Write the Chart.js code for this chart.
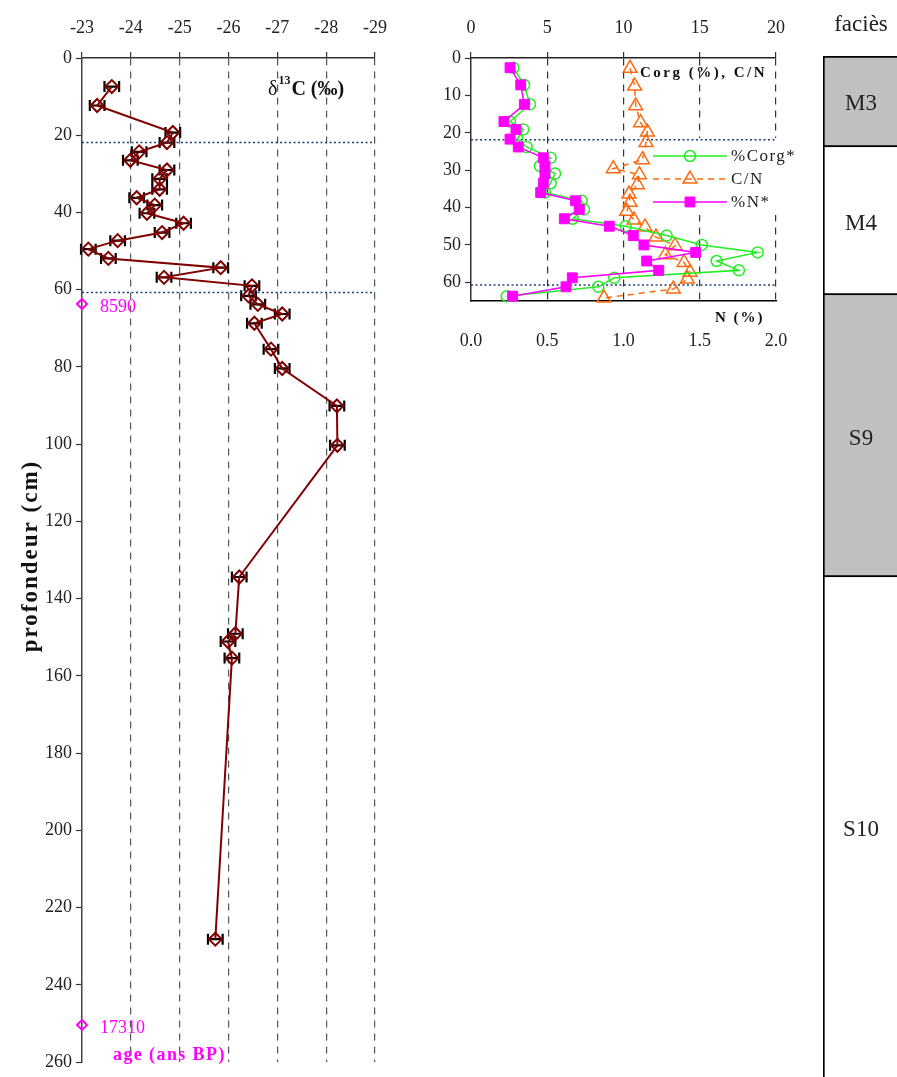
<!DOCTYPE html>
<html>
<head>
<meta charset="utf-8">
<script src="https://cdn.jsdelivr.net/npm/chart.js@4.4.1/dist/chart.umd.min.js"></script>
<style>
  html, body { margin: 0; padding: 0; background: #fff; overflow: hidden; }
  body { width: 897px; height: 1077px; position: relative; }
  canvas { position: absolute; top: 0; }
  #isoChart { left: 0; }
  #orgChart { left: 420px; }
  #faciesChart { left: 815px; }
</style>
</head>
<body>
<canvas id="isoChart" width="400" height="1077"></canvas>
<canvas id="orgChart" width="400" height="360"></canvas>
<canvas id="faciesChart" width="82" height="1077"></canvas>
<script>
// profil delta 13C (profondeur en cm)
const isoDepth = [7.4, 12.3, 19.3, 21.9, 24.3, 26.5, 29.0, 31.3, 34.0, 36.2, 38.1, 40.2, 42.8, 45.2, 47.3, 49.5, 51.9, 54.3, 56.8, 59.0, 61.6, 63.8, 66.3, 68.7, 75.4, 80.4, 90.1, 100.3, 134.4, 149.1, 151.1, 155.4, 228.2];
const d13C = [-23.61, -23.31, -24.86, -24.74, -24.17, -23.99, -24.74, -24.59, -24.59, -24.12, -24.49, -24.33, -25.08, -24.64, -23.73, -23.13, -23.54, -25.84, -24.68, -26.48, -26.41, -26.60, -27.10, -26.53, -26.87, -27.10, -28.22, -28.23, -26.22, -26.14, -25.99, -26.07, -25.73];
const d13CErr = 0.15;
const isoTicks = [-23, -24, -25, -26, -27, -28, -29];
const depthTicks = [0, 20, 40, 60, 80, 100, 120, 140, 160, 180, 200, 220, 240, 260];

// ages 14C
const ageDepth = [63.7, 250.4];
const ageLabels = ['8590', '17310'];

// limites dotted
const horizonDepth = [21.9, 60.7];

// Corg, N, C/N
const sampleDepth = [2.6, 7.2, 12.4, 17.0, 19.1, 21.7, 23.8, 26.7, 28.9, 30.9, 33.5, 36.0, 38.2, 40.5, 43.0, 45.0, 47.5, 50.0, 52.0, 54.3, 56.8, 58.8, 61.2, 63.7];
const corg = [2.78, 3.48, 3.87, 2.56, 3.43, 3.04, 3.65, 5.22, 4.52, 5.51, 5.22, 4.85, 7.26, 7.41, 6.67, 10.14, 12.83, 15.13, 18.8, 16.11, 17.57, 9.40, 8.35, 2.34];
const nitrogen = [0.256, 0.326, 0.35, 0.216, 0.295, 0.256, 0.31, 0.474, 0.485, 0.485, 0.474, 0.457, 0.686, 0.71, 0.612, 0.907, 1.064, 1.134, 1.473, 1.152, 1.231, 0.664, 0.623, 0.273];
const cnDepth = [2.75, 7.5, 12.8, 17.3, 19.8, 22.6, 27.2, 29.6, 31.2, 33.9, 36.4, 38.6, 41.0, 43.3, 45.2, 47.9, 50.2, 52.6, 54.7, 57.3, 59.1, 61.8, 64.2];
const cnRatio = [10.43, 10.73, 10.8, 11.12, 11.57, 11.48, 11.24, 9.33, 11.04, 10.91, 10.36, 10.43, 10.21, 10.69, 11.41, 12.13, 13.38, 12.74, 13.97, 14.36, 14.18, 13.27, 8.72];
const topTicks = [0, 5, 10, 15, 20];
const nTicks = [0, 0.5, 1, 1.5, 2];
const orgDepthTicks = [0, 10, 20, 30, 40, 50, 60];

// facies
const faciesNames = ['M3', 'M4', 'S9', 'S10'];
const faciesTop = [0, 23.5, 61.8, 134.7];
const faciesBottom = [23.5, 61.8, 134.7, 264];
const faciesFill = ['#c0c0c0', '#ffffff', '#c0c0c0', '#ffffff'];

const SERIF = "'Liberation Serif', 'DejaVu Serif', serif";
const tickFont = { family: SERIF, size: 18 };
Chart.defaults.font.family = SERIF;
Chart.defaults.color = '#222';
Chart.defaults.animation = false;

const setTicks = arr => axis => { axis.ticks = arr.map(v => ({ value: v })); };

// ---------- graphe delta 13C ----------
const isoDecor = {
  id: 'isoDecor',
  beforeDatasetsDraw(chart) {
    const { ctx, scales: { x, y } } = chart;
    ctx.save();
    ctx.strokeStyle = '#000';
    ctx.lineWidth = 2.2;
    d13C.forEach((v, i) => {
      const py = y.getPixelForValue(isoDepth[i]);
      const x1 = x.getPixelForValue(v + d13CErr);
      const x2 = x.getPixelForValue(v - d13CErr);
      ctx.beginPath();
      ctx.moveTo(x1, py); ctx.lineTo(x2, py);
      ctx.moveTo(x1, py - 5.5); ctx.lineTo(x1, py + 5.5);
      ctx.moveTo(x2, py - 5.5); ctx.lineTo(x2, py + 5.5);
      ctx.stroke();
    });
    ctx.restore();
  },
  afterDraw(chart) {
    const { ctx, scales: { x, y } } = chart;
    ctx.save();
    // titre
    ctx.fillStyle = '#111';
    ctx.textBaseline = 'alphabetic';
    let tx = 268;
    ctx.font = `20px ${SERIF}`;
    ctx.fillText('δ', tx, 95);
    tx += ctx.measureText('δ').width + 1;
    ctx.font = `bold 12px ${SERIF}`;
    ctx.fillText('13', tx, 84);
    tx += ctx.measureText('13').width + 1;
    ctx.font = `bold 20px ${SERIF}`;
    ctx.fillText('C (‰)', tx, 95);

    // ages
    ctx.fillStyle = '#ff00ff';
    ctx.font = `18px ${SERIF}`;
    ctx.textBaseline = 'middle';
    ageLabels.forEach((lab, i) => {
      ctx.fillText(lab, x.getPixelForValue(-23) + 18, y.getPixelForValue(ageDepth[i]) + 3);
    });
    ctx.font = `bold 18px ${SERIF}`;
    ctx.letterSpacing = '1.4px';
    ctx.fillText('age (ans BP)', 113, 1055);

    // titre axe y
    ctx.fillStyle = '#111';
    ctx.font = `bold 23px ${SERIF}`;
    ctx.letterSpacing = '2px';
    ctx.textAlign = 'center';
    ctx.translate(31, 556);
    ctx.rotate(-Math.PI / 2);
    ctx.fillText('profondeur (cm)', 0, 0);
    ctx.restore();
  }
};

new Chart(document.getElementById('isoChart'), {
  type: 'scatter',
  data: {
    datasets: [
      {
        label: 'd13C',
        data: isoDepth.map((d, i) => ({ x: d13C[i], y: d })),
        showLine: true,
        borderColor: '#800000',
        borderWidth: 2,
        pointStyle: 'rectRot',
        pointRadius: 6.5,
        pointBorderWidth: 2,
        pointBorderColor: '#800000',
        pointBackgroundColor: 'rgba(255,255,255,0)',
        clip: false,
        order: 0
      },
      {
        label: 'ages',
        data: ageDepth.map(d => ({ x: -23, y: d })),
        showLine: false,
        pointStyle: 'rectRot',
        pointRadius: 5,
        pointBorderWidth: 2,
        pointBorderColor: '#ff00ff',
        pointBackgroundColor: 'rgba(255,255,255,0)',
        clip: false,
        order: 1
      },
      ...horizonDepth.map(d => ({
        label: 'limite',
        data: [{ x: -23, y: d }, { x: -29, y: d }],
        showLine: true,
        borderColor: '#1a3c78',
        borderWidth: 1.5,
        borderDash: [2, 2.5],
        pointRadius: 0,
        clip: false,
        order: 2
      }))
    ]
  },
  options: {
    responsive: false,
    layout: { padding: { left: 0, top: 0, right: 25, bottom: 15 } },
    plugins: { legend: { display: false }, tooltip: { enabled: false } },
    scales: {
      x: {
        type: 'linear', position: 'top', min: -29, max: -23, reverse: true,
        afterFit: s => { s.height = 58; },
        afterBuildTicks: setTicks(isoTicks),
        ticks: { font: tickFont, color: '#222', padding: 13 },
        grid: {
          color: c => (c.tick && c.tick.value === -23) ? 'rgba(0,0,0,0)' : '#555',
          lineWidth: 1.2, tickLength: 6, tickColor: '#333', tickWidth: 1.2
        },
        border: { color: '#333', width: 1.5, dash: [7, 6] }
      },
      y: {
        type: 'linear', min: 0, max: 260, reverse: true,
        afterFit: s => { s.width = 82; },
        afterBuildTicks: setTicks(depthTicks),
        ticks: { font: tickFont, color: '#222', padding: 4 },
        grid: { drawOnChartArea: false, tickLength: 6, tickColor: '#333', tickWidth: 1.2 },
        border: { color: '#444', width: 1.5 }
      }
    }
  },
  plugins: [isoDecor]
});

// ---------- graphe Corg / N / C/N ----------
const legendOrder = [1, 2, 0];
const orgDecor = {
  id: 'orgDecor',
  beforeDatasetsDraw(chart) {
    const { ctx } = chart;
    ctx.save();
    ctx.fillStyle = '#fff';
    ctx.fillRect(230, 138, 150, 77);
    legendOrder.forEach((idx, row) => {
      const ds = chart.data.datasets[idx];
      const y = 156 + row * 23;
      ctx.strokeStyle = ds.borderColor;
      ctx.lineWidth = ds.borderWidth;
      ctx.setLineDash(ds.borderDash || []);
      ctx.beginPath(); ctx.moveTo(233, y); ctx.lineTo(307, y); ctx.stroke();
      ctx.setLineDash([]);
      ctx.fillStyle = ds.pointBackgroundColor;
      ctx.strokeStyle = ds.pointBorderColor;
      ctx.lineWidth = ds.pointBorderWidth;
      Chart.helpers.drawPoint(ctx, { pointStyle: ds.pointStyle, radius: ds.pointRadius, borderWidth: ds.pointBorderWidth, rotation: 0 }, 270, y);
      ctx.fillStyle = '#222';
      ctx.font = `17px ${SERIF}`;
      ctx.letterSpacing = '1.5px';
      ctx.textBaseline = 'middle';
      ctx.fillText(ds.label, 311, y + 1);
    });
    ctx.restore();
  },
  afterDraw(chart) {
    const { ctx } = chart;
    ctx.save();
    ctx.fillStyle = '#111';
    ctx.textBaseline = 'middle';
    ctx.font = `bold 15px ${SERIF}`;
    ctx.letterSpacing = '2.5px';
    ctx.fillText('Corg (%), C/N', 220, 73);
    ctx.letterSpacing = '2px';
    ctx.fillText('N (%)', 295, 318);
    ctx.restore();
  }
};

new Chart(document.getElementById('orgChart'), {
  type: 'scatter',
  data: {
    datasets: [
      {
        label: '%N*',
        xAxisID: 'x2',
        data: sampleDepth.map((d, i) => ({ x: nitrogen[i], y: d })),
        showLine: true,
        borderColor: '#ff00ff',
        borderWidth: 1.5,
        pointStyle: 'rect',
        pointRadius: 7,
        pointBorderWidth: 1,
        pointBorderColor: '#ff00ff',
        pointBackgroundColor: '#ff00ff',
        clip: false,
        order: 0
      },
      {
        label: '%Corg*',
        xAxisID: 'x',
        data: sampleDepth.map((d, i) => ({ x: corg[i], y: d })),
        showLine: true,
        borderColor: '#22ee22',
        borderWidth: 1.5,
        pointStyle: 'circle',
        pointRadius: 5.5,
        pointBorderWidth: 1.5,
        pointBorderColor: '#22ee22',
        pointBackgroundColor: 'rgba(255,255,255,0)',
        clip: false,
        order: 1
      },
      {
        label: 'C/N',
        xAxisID: 'x',
        data: cnDepth.map((d, i) => ({ x: cnRatio[i], y: d })),
        showLine: true,
        borderColor: '#ff6a10',
        borderWidth: 1.5,
        borderDash: [6, 5],
        pointStyle: 'triangle',
        pointRadius: 8,
        pointBorderWidth: 1.5,
        pointBorderColor: '#ff6a10',
        pointBackgroundColor: 'rgba(255,255,255,0)',
        clip: false,
        order: 2
      },
      ...horizonDepth.map(d => ({
        label: 'limite',
        xAxisID: 'x',
        data: [{ x: 0, y: d }, { x: 20, y: d }],
        showLine: true,
        borderColor: '#1a3c78',
        borderWidth: 1.5,
        borderDash: [2, 2.5],
        pointRadius: 0,
        clip: false,
        order: 3
      }))
    ]
  },
  options: {
    responsive: false,
    layout: { padding: { left: 0, top: 0, right: 44, bottom: 0 } },
    plugins: { legend: { display: false }, tooltip: { enabled: false } },
    scales: {
      x: {
        type: 'linear', position: 'top', min: 0, max: 20,
        afterFit: s => { s.height = 58; },
        afterBuildTicks: setTicks(topTicks),
        ticks: { font: tickFont, color: '#222', padding: 13 },
        grid: {
          color: c => (c.tick && c.tick.value === 0) ? 'rgba(0,0,0,0)' : '#333',
          lineWidth: 1.2, tickLength: 6, tickColor: '#333', tickWidth: 1.2
        },
        border: { color: '#222', width: 1.5, dash: [7, 6] }
      },
      x2: {
        type: 'linear', position: 'bottom', min: 0, max: 2,
        afterFit: s => { s.height = 59; },
        afterBuildTicks: setTicks(nTicks),
        ticks: { font: tickFont, color: '#222', padding: 21, callback: v => v.toFixed(1) },
        grid: { display: false },
        border: { display: true, color: '#000', width: 1.5 }
      },
      y: {
        type: 'linear', min: 0, max: 65, reverse: true,
        afterFit: s => { s.width = 51; },
        afterBuildTicks: setTicks(orgDepthTicks),
        ticks: { font: tickFont, color: '#222', padding: 4 },
        grid: { drawOnChartArea: false, tickLength: 6, tickColor: '#333', tickWidth: 1.2 },
        border: { color: '#333', width: 1.5 }
      }
    }
  },
  plugins: [orgDecor]
});

// ---------- colonne des facies ----------
const faciesDecor = {
  id: 'faciesDecor',
  afterDatasetsDraw(chart) {
    const { ctx, chartArea } = chart;
    ctx.save();
    ctx.fillStyle = '#222';
    ctx.font = `23px ${SERIF}`;
    ctx.textAlign = 'center';
    ctx.textBaseline = 'middle';
    const cx = (chartArea.left + chartArea.right) / 2 + 1;
    ctx.fillText('faciès', cx, 25);
    chart.data.datasets.forEach((ds, i) => {
      const bar = chart.getDatasetMeta(i).data[0];
      ctx.fillText(ds.label, cx, (bar.y + bar.base) / 2 + 3);
    });
    ctx.restore();
  }
};

new Chart(document.getElementById('faciesChart'), {
  type: 'bar',
  data: {
    labels: ['faciès'],
    datasets: faciesNames.map((name, i) => ({
      label: name,
      data: [[faciesTop[i], faciesBottom[i]]],
      backgroundColor: faciesFill[i],
      borderColor: '#000',
      borderWidth: { top: i === 0 ? 2 : 0, right: 0, bottom: i < faciesNames.length - 1 ? 2 : 0, left: 2 },
      borderSkipped: false,
      barPercentage: 1,
      categoryPercentage: 1
    }))
  },
  options: {
    responsive: false,
    layout: { padding: { left: 8, top: 56, right: 0, bottom: 0 } },
    plugins: { legend: { display: false }, tooltip: { enabled: false } },
    scales: {
      x: { display: false, stacked: true },
      y: { display: false, min: 0, max: 264, reverse: true }
    }
  },
  plugins: [faciesDecor]
});
</script>
</body>
</html>
